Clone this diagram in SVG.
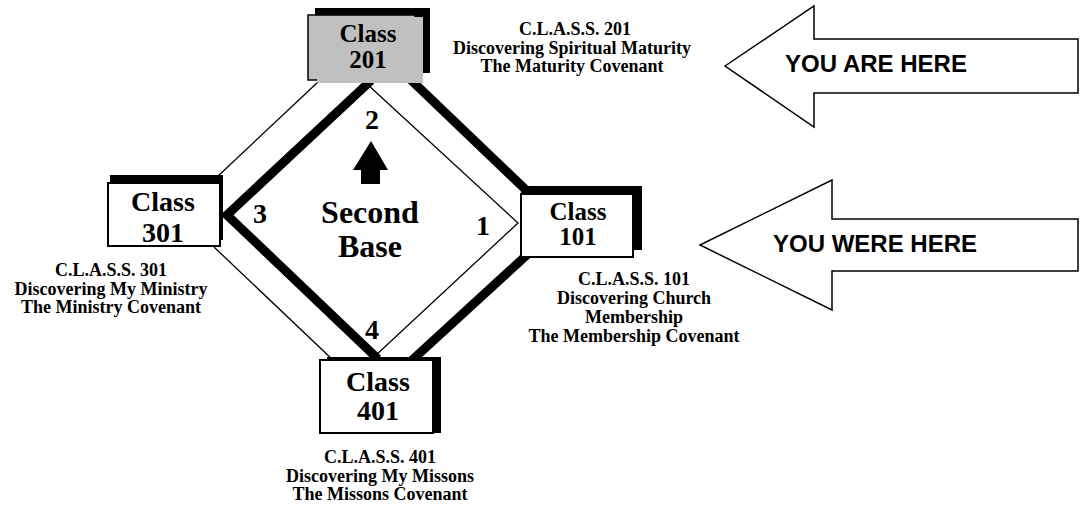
<svg xmlns="http://www.w3.org/2000/svg" width="1088" height="506" viewBox="0 0 1088 506">
  <style>
    .thick { fill: none; stroke: #000; stroke-width: 9; stroke-linejoin: miter; stroke-linecap: butt; }
    .thin { fill: none; stroke: #000; stroke-width: 1.3; }
    .shadow { fill: #000; }
    .box { fill: #fff; stroke: #000; stroke-width: 2; }
    .boxgray { fill: #c0c0c0; stroke: #000; stroke-width: 1.5; }
    .lbl { font-family: "Liberation Serif", "Times New Roman", serif; font-weight: bold; text-anchor: middle; fill: #000; }
    .big { font-size: 28px; }
    .mid { font-size: 25px; }
    .desc { font-size: 18px; }
    .num { font-size: 28px; }
    .center { font-size: 32px; }
    .here { font-family: "Liberation Sans", Arial, sans-serif; font-weight: bold; font-size: 24px; text-anchor: middle; fill: #000; }
    .bigarrow { fill: #fff; stroke: #000; stroke-width: 1.5; }
  </style>
  <rect width="1088" height="506" fill="#fff"/>

  <g id="connectors">
    <polyline class="thick" points="371,80.5 227,215 378,359"/>
    <line class="thick" x1="410" y1="79" x2="527" y2="191"/>
    <line class="thick" x1="529" y1="253" x2="410" y2="362"/>
    <polyline class="thin" points="367,84 518,223 375,356"/>
    <line class="thin" x1="318" y1="82" x2="218" y2="176"/>
    <line class="thin" x1="214" y1="247" x2="334" y2="361"/>
  </g>

  <g id="center">
    <polygon points="371,141 388,170 380,170 380,184 361,184 361,170 353,170" fill="#000"/>
    <text class="lbl center" x="370" y="223">Second</text>
    <text class="lbl center" x="370" y="257">Base</text>
    <text class="lbl num" x="372" y="129">2</text>
    <text class="lbl num" x="260" y="223">3</text>
    <text class="lbl num" x="483" y="235">1</text>
    <text class="lbl num" x="372" y="339">4</text>
  </g>

  <g id="class201">
    <rect class="shadow" x="315" y="8" width="115" height="65"/>
    <rect class="boxgray" x="308" y="15" width="107" height="65"/>
    <rect x="317" y="17" width="106" height="66" fill="#c0c0c0"/>
    <text class="lbl mid" x="368" y="42">Class</text>
    <text class="lbl mid" x="368" y="68">201</text>
    <text class="lbl desc" x="575" y="35">C.L.A.S.S. 201</text>
    <text class="lbl desc" x="572" y="53.5">Discovering Spiritual Maturity</text>
    <text class="lbl desc" x="572" y="72">The Maturity Covenant</text>
  </g>

  <g id="class301">
    <rect class="shadow" x="110" y="175" width="113" height="65"/>
    <rect class="box" x="108" y="183" width="112" height="63"/>
    <text class="lbl big" x="163" y="211">Class</text>
    <text class="lbl big" x="163" y="242">301</text>
    <text class="lbl desc" x="111" y="276">C.L.A.S.S. 301</text>
    <text class="lbl desc" x="111" y="294.5">Discovering My Ministry</text>
    <text class="lbl desc" x="111" y="313">The Ministry Covenant</text>
  </g>

  <g id="class101">
    <rect class="shadow" x="521" y="186" width="121" height="64"/>
    <rect class="box" x="521" y="194" width="112" height="63"/>
    <text class="lbl mid" x="578" y="220">Class</text>
    <text class="lbl mid" x="578" y="245">101</text>
    <text class="lbl desc" x="634" y="285">C.L.A.S.S. 101</text>
    <text class="lbl desc" x="634" y="304">Discovering Church</text>
    <text class="lbl desc" x="634" y="323">Membership</text>
    <text class="lbl desc" x="634" y="342">The Membership Covenant</text>
  </g>

  <g id="class401">
    <rect class="shadow" x="327" y="357" width="114" height="76"/>
    <rect class="box" x="320" y="360" width="113" height="73"/>
    <text class="lbl big" x="378" y="391">Class</text>
    <text class="lbl big" x="378" y="420">401</text>
    <text class="lbl desc" x="380" y="463">C.L.A.S.S. 401</text>
    <text class="lbl desc" x="380" y="482">Discovering My Missons</text>
    <text class="lbl desc" x="380" y="500">The Missons Covenant</text>
  </g>

  <g id="you-are-here">
    <polygon class="bigarrow" points="725,66 814,6 814,39 1078,39 1078,93 814,93 814,127"/>
    <text class="here" x="876" y="72">YOU ARE HERE</text>
  </g>

  <g id="you-were-here">
    <polygon class="bigarrow" points="700,245 832,180 832,219 1078,219 1078,271 832,271 832,310"/>
    <text class="here" x="875" y="252">YOU WERE HERE</text>
  </g>
</svg>
